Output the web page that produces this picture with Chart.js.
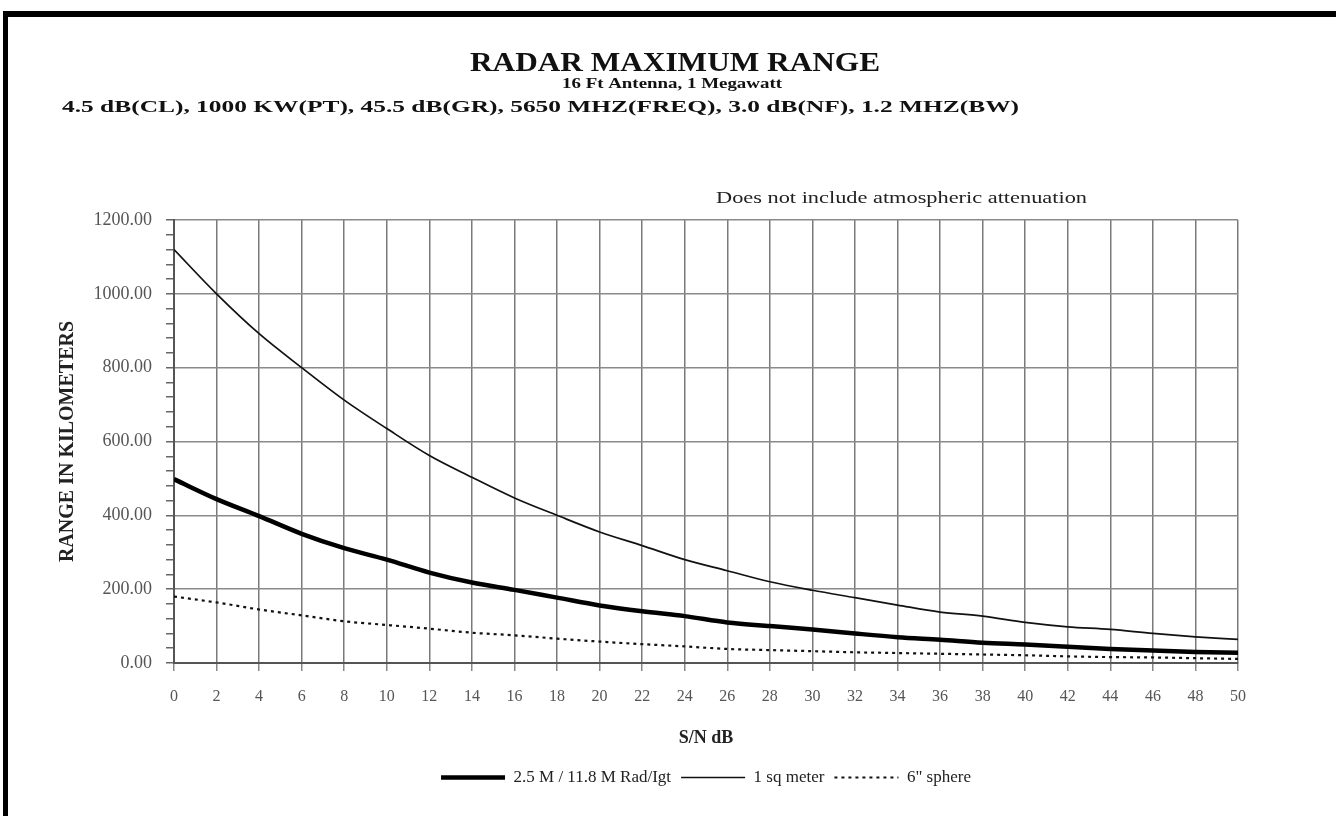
<!DOCTYPE html>
<html><head><meta charset="utf-8">
<script src="https://cdn.jsdelivr.net/npm/chart.js@4/dist/chart.umd.min.js"></script>
<style>html,body{margin:0;padding:0;background:#fff;}canvas{display:block;}</style>
</head><body>
<canvas id="c" width="1336" height="816"></canvas>
<script>
// ---- data ----
const snrDb = [0,2,4,6,8,10,12,14,16,18,20,22,24,26,28,30,32,34,36,38,40,42,44,46,48,50];
const radLgt = [498,444,398,350,311,280,245,218,198,177,156,140,127,110,100,91,80,70,63,55,50,44,38,34,30,28];
const oneSqMeter = [1120,1000,892,800,712,635,562,503,447,400,355,318,280,250,220,197,177,157,138,127,110,98,91,80,71,64];
const sphere6in = [180,164,145,129,113,103,93,82,75,66,58,51,45,38,35,32,29,27,25,23,21,18,16,15,13,11];
const seriesNames = ['2.5 M / 11.8 M Rad/Igt', '1 sq meter', '6" sphere'];
const titleText = 'RADAR MAXIMUM RANGE';
const subtitleText = '16 Ft Antenna, 1 Megawatt';
const paramsText = '4.5 dB(CL), 1000 KW(PT), 45.5 dB(GR), 5650 MHZ(FREQ), 3.0 dB(NF), 1.2 MHZ(BW)';
const noteText = 'Does not include atmospheric attenuation';
const xTitle = 'S/N dB';
const yTitle = 'RANGE IN KILOMETERS';
const yMin = 0, yMax = 1200, yMinorStep = 40, yMajorStep = 200;
const xMin = 0, xMax = 50, xStep = 2;

const SERIF = '"Liberation Serif", "DejaVu Serif", serif';
const toPts = arr => arr.map((v, i) => ({x: snrDb[i], y: v}));

function fitText(ctx, text, left, baseline, width, font, color) {
  ctx.save();
  ctx.font = font;
  ctx.fillStyle = color;
  ctx.textAlign = 'left';
  ctx.textBaseline = 'alphabetic';
  const w = ctx.measureText(text).width;
  ctx.translate(left, baseline);
  ctx.scale(width / w, 1);
  ctx.fillText(text, 0, 0);
  ctx.restore();
}

const decor = {
  id: 'decor',
  beforeDraw(chart) {
    const ctx = chart.ctx;
    ctx.save();
    ctx.fillStyle = '#ffffff';
    ctx.fillRect(0, 0, chart.width, chart.height);
    ctx.fillStyle = '#000000';
    ctx.fillRect(3, 11, chart.width - 3, 6);
    ctx.fillRect(3, 11, 5, chart.height - 11);
    ctx.restore();
  },
  afterDraw(chart) {
    const ctx = chart.ctx;
    fitText(ctx, titleText, 470, 71, 410, 'bold 28px ' + SERIF, '#111');
    fitText(ctx, subtitleText, 562, 88, 220, 'bold 14px ' + SERIF, '#111');
    fitText(ctx, paramsText, 62, 112, 957, 'bold 17px ' + SERIF, '#111');
    fitText(ctx, noteText, 716, 203, 371, '16px ' + SERIF, '#222');
  }
};

new Chart(document.getElementById('c'), {
  type: 'line',
  data: {
    datasets: [
      {label: seriesNames[0], data: toPts(radLgt), borderColor: '#000', backgroundColor: '#000', borderWidth: 4.5, pointRadius: 0, cubicInterpolationMode: 'monotone', fill: false},
      {label: seriesNames[1], data: toPts(oneSqMeter), borderColor: '#111', backgroundColor: '#111', borderWidth: 1.7, pointRadius: 0, cubicInterpolationMode: 'monotone', fill: false},
      {label: seriesNames[2], data: toPts(sphere6in), borderColor: '#111', backgroundColor: '#111', borderWidth: 2.2, borderDash: [3, 4], pointRadius: 0, cubicInterpolationMode: 'monotone', fill: false}
    ]
  },
  options: {
    responsive: false,
    animation: false,
    devicePixelRatio: 1,
    layout: {padding: {left: 50, right: 98, top: 220, bottom: 20}},
    plugins: {
      title: {display: false},
      tooltip: {enabled: false},
      legend: {
        position: 'bottom',
        fullSize: false,
        labels: {
          usePointStyle: true,
          pointStyle: 'line',
          pointStyleWidth: 64,
          padding: 10,
          color: '#222',
          font: {family: SERIF, size: 17},
          generateLabels(chart) {
            const items = Chart.defaults.plugins.legend.labels.generateLabels(chart);
            items.forEach((it, i) => {
              const ds = chart.data.datasets[it.datasetIndex ?? i];
              it.lineDash = ds.borderDash || [];
              it.lineWidth = ds.borderWidth;
            });
            return items;
          }
        }
      }
    },
    scales: {
      x: {
        type: 'linear',
        min: xMin, max: xMax,
        afterFit(scale) { scale.height = 96; },
        ticks: {stepSize: xStep, padding: 16, color: '#555', font: {family: SERIF, size: 16}, maxRotation: 0, autoSkip: false},
        grid: {color: '#7a7a7a', lineWidth: 1.5, tickLength: 8, tickColor: '#888'},
        border: {color: '#555', width: 2},
        title: {display: true, text: xTitle, color: '#222', font: {family: SERIF, size: 18, weight: 'bold'}, padding: {top: 4, bottom: 10}}
      },
      y: {
        type: 'linear',
        min: yMin, max: yMax,
        afterFit(scale) { scale.width = 124; },
        ticks: {
          stepSize: yMinorStep, autoSkip: false, padding: 14, color: '#555',
          font: {family: SERIF, size: 18},
          callback: v => (v % yMajorStep === 0 ? v.toFixed(2) : '')
        },
        grid: {
          color: c => (c.tick && c.tick.value % yMajorStep === 0 ? '#8a8a8a' : 'rgba(0,0,0,0)'),
          tickColor: '#666',
          lineWidth: 1.5, tickLength: 8
        },
        border: {color: '#555', width: 2},
        title: {display: true, text: yTitle, color: '#222', font: {family: SERIF, size: 20, weight: 'bold'}, padding: {top: 6, bottom: 4}}
      }
    }
  },
  plugins: [decor]
});
</script>
</body></html>
